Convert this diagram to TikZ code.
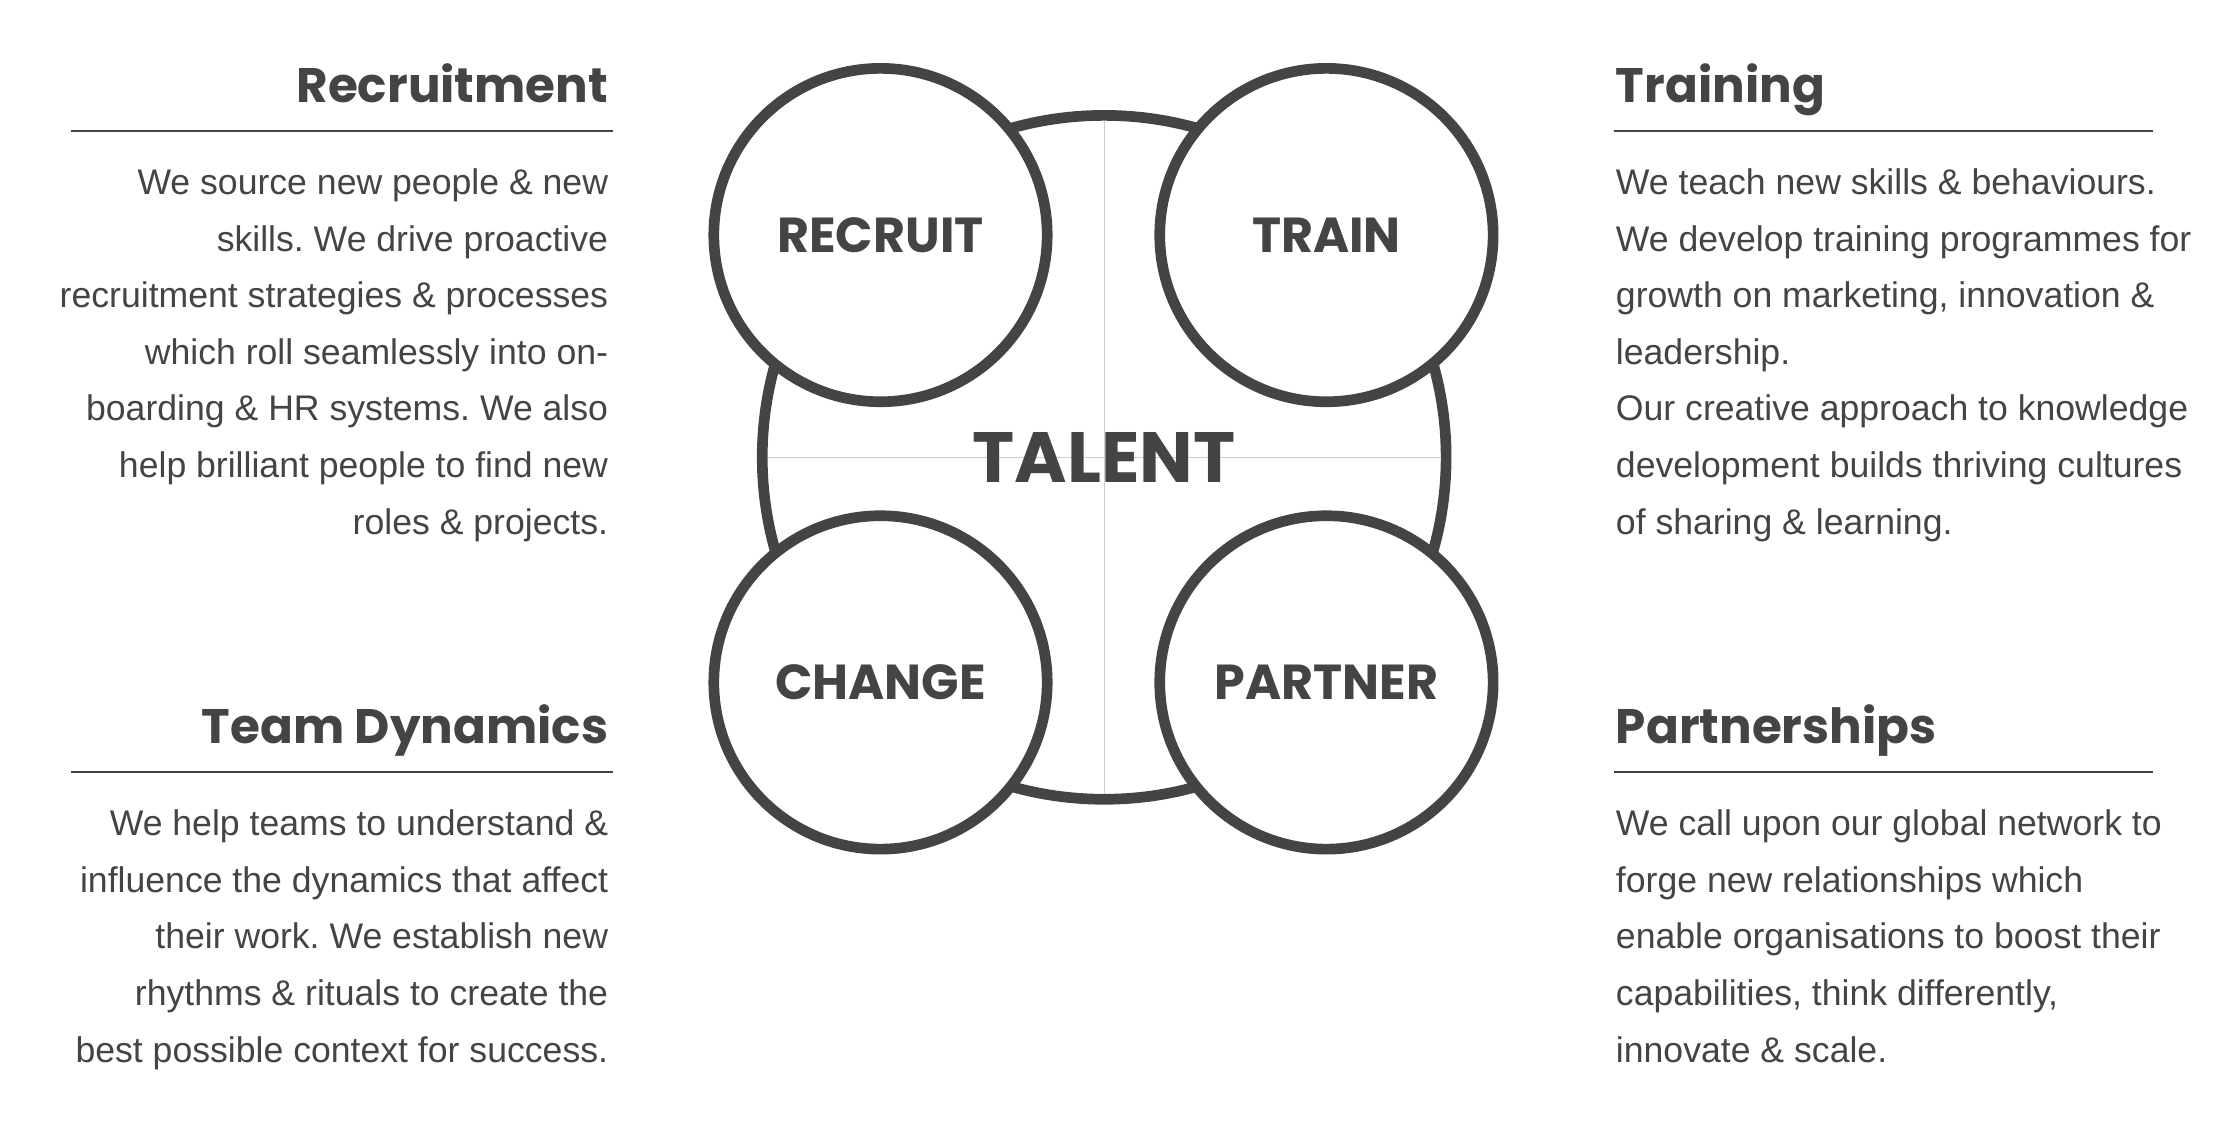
\documentclass[tikz,border=0pt]{standalone}
\usepackage{fontspec}
\setmainfont{Liberation Sans}
\newfontfamily\headfont{Poppins}
\frenchspacing
\definecolor{ink}{RGB}{68,68,68}
\definecolor{hair}{RGB}{205,205,205}
\tikzset{
  ring/.style={circle, draw=ink, line width=7.5pt, fill=white, inner sep=0pt},
  bubble/.style={ring, minimum size=234pt, text=ink,
    font=\headfont\bfseries\fontsize{34.5}{34.5}\selectfont},
  heading/.style={inner sep=0pt, text=ink,
    font=\headfont\bfseries\fontsize{34}{34}\selectfont},
  body/.style={inner sep=0pt, text=ink, font=\fontsize{25}{39.7}\selectfont},
  rule/.style={draw=ink, line width=1.4pt},
}
\begin{document}
\begin{tikzpicture}[x=1pt,y=1pt]
\useasboundingbox (0,0) rectangle (1568,789);
% centre
\node[ring, minimum size=480pt] (core) at (775,468) {};
\draw[hair, line width=0.9pt, shorten <=7.5pt, shorten >=7.5pt] (core.north)--(core.south);
\draw[hair, line width=0.9pt, shorten <=7.5pt, shorten >=7.5pt] (core.west)--(core.east);
\node[bubble] (recruit) at (618,624) {RECRUIT};
\node[bubble] (train) at (931,624) {TRAIN};
\node[bubble] (change) at (618,310) {CHANGE};
\node[bubble] (partner) at (931,310) {PARTNER};
\node[text=ink, font=\headfont\bfseries\fontsize{50}{50}\selectfont] (talent) at (core) {TALENT};
% left column
\node[heading, anchor=base east] (hrecruit) at (427,717) {Recruitment};
\draw[rule] (50,697)--(430,697);
\node[body, anchor=north east, align=right] (brecruit) at (427,670.7) {We source new people \& new\\
skills. We drive proactive\\
recruitment strategies \& processes\\
which roll seamlessly into on-\\
boarding \& HR systems. We also\\
help brilliant people to find new\\
roles \& projects.};
\node[heading, anchor=base east] (hteam) at (427,267) {Team Dynamics};
\draw[rule] (50,247)--(430,247);
\node[body, anchor=north east, align=right] (bteam) at (427,220.7) {We help teams to understand \&\\
influence the dynamics that affect\\
their work. We establish new\\
rhythms \& rituals to create the\\
best possible context for success.};
% right column
\node[heading, anchor=base west] (htrain) at (1134,717) {Training};
\draw[rule] (1133,697)--(1511,697);
\node[body, anchor=north west, align=left] (btrain) at (1134,670.7) {We teach new skills \& behaviours.\\
We develop training programmes for\\
growth on marketing, innovation \&\\
leadership.\\
Our creative approach to knowledge\\
development builds thriving cultures\\
of sharing \& learning.};
\node[heading, anchor=base west] (hpartner) at (1134,267) {Partnerships};
\draw[rule] (1133,247)--(1511,247);
\node[body, anchor=north west, align=left] (bpartner) at (1134,220.7) {We call upon our global network to\\
forge new relationships which\\
enable organisations to boost their\\
capabilities, think differently,\\
innovate \& scale.};
\end{tikzpicture}
\end{document}
